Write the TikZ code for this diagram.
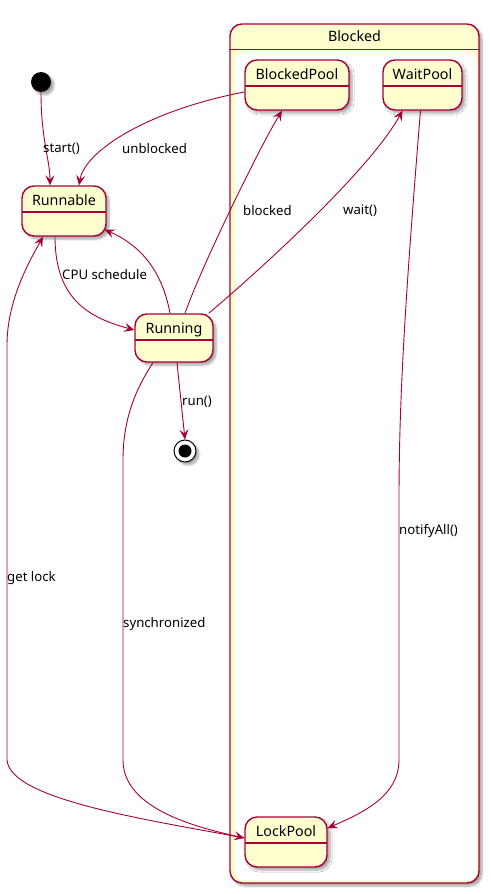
\documentclass[tikz,border=0pt]{standalone}
\usepackage{fontspec}
\setmainfont{Noto Sans}
\usetikzlibrary{arrows.meta,shadows.blur}
\definecolor{umlred}{HTML}{A80036}
\definecolor{umlfill}{HTML}{FEFECE}
\tikzset{
  dropshade/.style={blur shadow={shadow xshift=3pt,shadow yshift=-3pt,shadow blur steps=6,shadow opacity=35}},
  statebox/.style={draw=umlred, fill=umlfill, line width=1.4pt, rounded corners=12pt, dropshade,
    inner xsep=0pt, inner ysep=0pt, text height=19pt, text depth=31pt,
    font=\fontsize{14.3}{16}\selectfont,
    path picture={\draw[umlred,line width=1.4pt]
      ([yshift=-26pt]path picture bounding box.north west) --
      ([yshift=-26pt]path picture bounding box.north east);}},
  trans/.style={draw=umlred, line width=0.9pt, -{Stealth[length=10pt,width=9pt,inset=4pt]}},
  lbl/.style={anchor=west, inner sep=0pt, font=\fontsize{13.2}{15}\selectfont},
}
\begin{document}
\begin{tikzpicture}[x=1pt,y=-1pt]
\useasboundingbox (0,0) rectangle (490,894);

% composite state "Blocked"
\node[draw=umlred, fill=umlfill, line width=1.4pt, rounded corners=12pt, dropshade,
      minimum width=249pt, minimum height=859pt, inner sep=0pt] (blocked) at (354.5,453.5) {};
\fill[white, rounded corners=10pt] ([xshift=6pt,yshift=-29pt]blocked.north west) rectangle ([xshift=-3pt,yshift=3pt]blocked.south east);
\draw[umlred, line width=1.4pt] ([yshift=-26pt]blocked.north west) -- ([yshift=-26pt]blocked.north east);
\node[font=\fontsize{14.3}{16}\selectfont, inner sep=0pt] (blockedtitle) at ([yshift=-13pt]blocked.north) {Blocked};

% pseudo states
\node[circle, fill=black, minimum size=20pt, inner sep=0pt, dropshade] (init) at (41,82) {};
\node[circle, draw=black, fill=white, line width=1pt, minimum size=22pt, inner sep=0pt, dropshade] (final) at (185,451) {};
\node[circle, fill=black, minimum size=13pt, inner sep=0pt] (finaldot) at (final.center) {};

% states
\node[statebox, minimum width=84pt] (runnable) at (64,211) {Runnable};
\node[statebox, minimum width=78pt, text depth=29pt] (running) at (174,338) {Running};
\node[statebox, minimum width=104pt] (bpool) at (297,85) {BlockedPool};
\node[statebox, minimum width=79pt] (wpool) at (422.5,85) {WaitPool};
\node[statebox, minimum width=82pt] (lpool) at (286,842) {LockPool};

% transitions
\draw[trans] (init.south) .. controls (41,140) and (50,160) .. ([xshift=-14pt]runnable.north);
\draw[trans] ([yshift=-7pt]bpool.west) .. controls (150,110) and (85,150) .. ([xshift=15pt]runnable.north);
\draw[trans] ([xshift=-9pt]runnable.south) .. controls (55,300) and (90,318) .. ([yshift=8pt]running.west);
\draw[trans] ([xshift=-4pt]running.north) .. controls (162,270) and (140,245) .. ([xshift=-2pt,yshift=7pt]runnable.south east);
\draw[trans] ([xshift=11pt]running.north) .. controls (200,270) and (258,150) .. ([xshift=-15pt]bpool.south);
\draw[trans] ([xshift=-5pt]running.north east) .. controls (260,270) and (370,170) .. ([xshift=-20pt]wpool.south);
\draw[trans] ([xshift=3pt]running.south) -- (final.north);
\draw[trans] ([xshift=-2pt]wpool.south) .. controls (405,300) and (399,400) .. (399,500) -- (399,760)
  .. controls (399,795) and (365,812) .. ([yshift=14pt]lpool.east);
\draw[trans] ([xshift=-21pt]running.south) .. controls (135,390) and (123,420) .. (123,460) -- (123,760)
  .. controls (123,810) and (200,828) .. ([yshift=4pt]lpool.west);
\draw[trans] ([yshift=4pt]lpool.west) .. controls (150,820) and (10,800) .. (7,760) -- (7,345)
  .. controls (7,300) and (30,260) .. ([xshift=-21pt]runnable.south);

% transition labels
\node[lbl] (lstart) at (43,149) {start()};
\node[lbl] (lunblocked) at (122,149) {unblocked};
\node[lbl] (lcpu) at (62,275) {CPU schedule};
\node[lbl] (lblocked) at (243,211) {blocked};
\node[lbl] (lwait) at (343,211) {wait()};
\node[lbl] (lrun) at (182,402) {run()};
\node[lbl] (lnotify) at (399,531) {notifyAll()};
\node[lbl] (lsync) at (123,624) {synchronized};
\node[lbl] (lget) at (7,578) {get lock};
\end{tikzpicture}
\end{document}
